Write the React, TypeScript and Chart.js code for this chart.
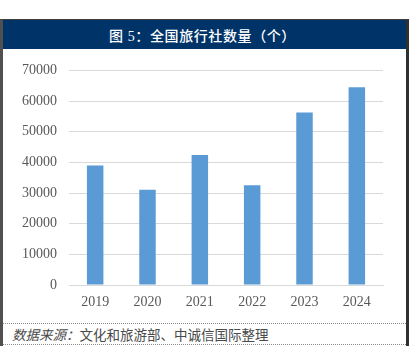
import React, { useEffect, useRef } from "react";
import { Chart, registerables } from "chart.js";

Chart.register(...registerables);

const categories = ["2019", "2020", "2021", "2022", "2023", "2024"];
const agencyCounts = [38943, 31074, 42432, 32500, 56275, 64500];
const yTicks = [0, 10000, 20000, 30000, 40000, 50000, 60000, 70000];

const titleText = "图 5：全国旅行社数量（个）";
const sourceLabel = "数据来源：";
const sourceText = "文化和旅游部、中诚信国际整理";

export default function App() {
  const canvasRef = useRef<HTMLCanvasElement | null>(null);

  useEffect(() => {
    if (!canvasRef.current) return;
    const chart = new Chart(canvasRef.current, {
      type: "bar",
      data: {
        labels: categories,
        datasets: [
          {
            data: agencyCounts,
            backgroundColor: "#5b9bd5",
            borderWidth: 0,
            barPercentage: 0.63,
            categoryPercentage: 0.5,
          },
        ],
      },
      options: {
        animation: false,
        responsive: false,
        maintainAspectRatio: false,
        layout: { padding: { top: 17, right: 23, left: 0, bottom: 0 } },
        plugins: { legend: { display: false }, tooltip: { enabled: false } },
        scales: {
          x: {
            grid: { display: false, drawTicks: false },
            border: { display: true, color: "#d9d9d9", width: 1 },
            ticks: {
              color: "#595959",
              padding: 9,
              font: { family: "'Liberation Serif', 'Times New Roman', serif", size: 14 },
              maxRotation: 0,
            },
            afterFit: (s: any) => {
              s.height = 37;
            },
          },
          y: {
            min: 0,
            max: 70000,
            afterBuildTicks: (s: any) => {
              s.ticks = yTicks.map((v) => ({ value: v }));
            },
            grid: { color: "#d9d9d9", drawTicks: false },
            border: { display: false },
            ticks: {
              color: "#595959",
              padding: 12,
              font: { family: "'Liberation Serif', 'Times New Roman', serif", size: 14 },
              callback: (v: any) => String(v),
            },
            afterFit: (s: any) => {
              s.width = 66;
            },
          },
        },
      },
    });
    return () => chart.destroy();
  }, []);

  return (
    <div
      style={{
        position: "fixed",
        left: 0,
        top: 0,
        width: 410,
        height: 351,
        background: "#ffffff",
        overflow: "hidden",
      }}
    >
      <div
        style={{
          position: "absolute",
          left: 0,
          top: 19,
          width: 403,
          height: 326,
          borderLeft: "3px solid #505050",
          borderRight: "3px solid #303030",
          borderTop: "1px solid #404040",
        }}
      />
      <div
        style={{
          position: "absolute",
          left: 3,
          top: 20,
          width: 403,
          height: 29,
          background: "#003468",
          color: "#ffffff",
          display: "flex",
          alignItems: "center",
          justifyContent: "center",
          fontFamily: "'Liberation Serif', 'Noto Sans CJK SC', serif",
          fontWeight: 500,
          fontSize: 14,
          letterSpacing: 0.6,
          paddingRight: 4,
          boxSizing: "border-box",
        }}
      >
        {titleText}
      </div>
      <canvas
        ref={canvasRef}
        width={403}
        height={272}
        style={{ position: "absolute", left: 3, top: 50, width: 403, height: 272 }}
      />
      <div
        style={{
          position: "absolute",
          left: 3,
          top: 323,
          width: 403,
          height: 0,
          borderTop: "1px dotted #8a8a8a",
        }}
      />
      <div
        style={{
          position: "absolute",
          left: 3,
          top: 344,
          width: 403,
          height: 0,
          borderTop: "1px dotted #8a8a8a",
        }}
      />
      <div
        style={{
          position: "absolute",
          left: 12,
          top: 324,
          height: 20,
          display: "flex",
          alignItems: "center",
          fontFamily: "'Noto Sans CJK SC', sans-serif",
          fontSize: 13.5,
          color: "#4a4a4a",
          whiteSpace: "nowrap",
        }}
      >
        <span style={{ fontStyle: "italic" }}>{sourceLabel}</span>
        <span>{sourceText}</span>
      </div>
    </div>
  );
}
